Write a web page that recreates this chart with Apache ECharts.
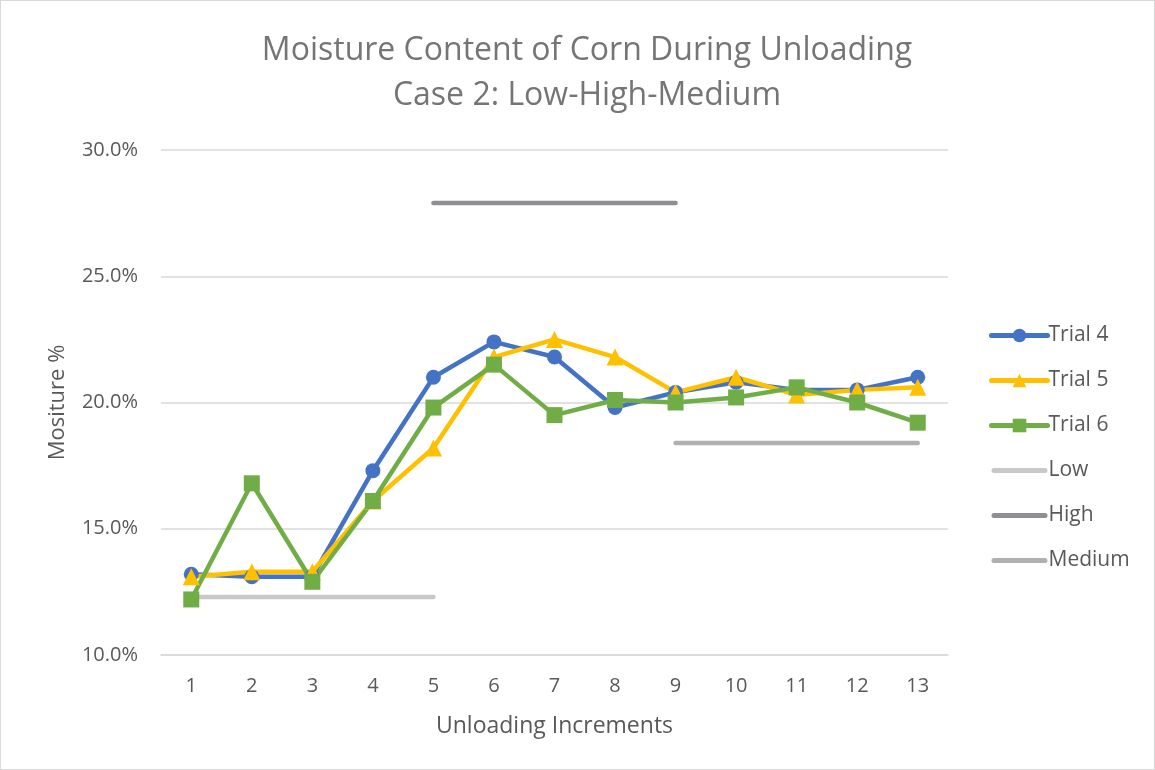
<!DOCTYPE html>
<html>
<head>
<meta charset="utf-8">
<script src="https://cdn.jsdelivr.net/npm/echarts@6/dist/echarts.min.js"></script>
<style>
  html, body { margin: 0; padding: 0; background: #fff; }
  #chart { width: 1153px; height: 768px; border: 1px solid #d9d9d9; }
</style>
</head>
<body>
<div id="chart"></div>
<script>
// data
var increments = ['1','2','3','4','5','6','7','8','9','10','11','12','13'];
var trial4 = [13.2, 13.1, 13.1, 17.3, 21.0, 22.4, 21.8, 19.8, 20.4, 20.8, 20.5, 20.5, 21.0];
var trial5 = [13.1, 13.3, 13.3, 16.1, 18.2, 21.8, 22.5, 21.8, 20.4, 21.0, 20.3, 20.5, 20.6];
var trial6 = [12.2, 16.8, 12.9, 16.1, 19.8, 21.5, 19.5, 20.1, 20.0, 20.2, 20.6, 20.0, 19.2];
// reference levels (null where the line is not drawn)
var low    = [12.3, 12.3, 12.3, 12.3, 12.3, null, null, null, null, null, null, null, null];
var high   = [null, null, null, null, 27.9, 27.9, 27.9, 27.9, 27.9, null, null, null, null];
var medium = [null, null, null, null, null, null, null, null, 18.4, 18.4, 18.4, 18.4, 18.4];

var font = '"Open Sans", "Noto Sans", sans-serif';
var barIcon = 'path://M2.5,0 L53.5,0 A2.5,2.5 0 0 1 53.5,5 L2.5,5 A2.5,2.5 0 0 1 2.5,0 Z';

function trial(name, data, color, symbol, size) {
	return {
		name: name,
		type: 'line',
		data: data,
		symbol: symbol,
		symbolSize: size,
		showAllSymbol: true,
		lineStyle: { width: 4.5, color: color, cap: 'round', join: 'round' },
		itemStyle: { color: color },
		emphasis: { disabled: true }
	};
}
function level(name, data, color) {
	return {
		name: name,
		type: 'line',
		data: data,
		symbol: 'none',
		lineStyle: { width: 4.5, color: color, cap: 'round' },
		itemStyle: { color: color },
		emphasis: { disabled: true }
	};
}

var myChart = echarts.init(document.getElementById('chart'));
var option = {
	animation: false,
	textStyle: { fontFamily: font },
	title: {
		text: 'Moisture Content of Corn During Unloading\nCase 2: Low-High-Medium',
		left: 581,
		top: 22,
		textAlign: 'center',
		textStyle: { fontSize: 32, fontWeight: 'normal', color: '#757575', lineHeight: 45, fontFamily: font }
	},
	legend: {
		orient: 'vertical',
		left: 983,
		top: 319,
		itemGap: 24,
		itemWidth: 56,
		itemHeight: 17,
		lineStyle: { width: 5, cap: 'round' },
		textStyle: { fontSize: 21, color: '#595959', fontFamily: font, padding: [0, 0, 0, -4] },
		data: [
			'Trial 4', 'Trial 5', 'Trial 6',
			{ name: 'Low', icon: barIcon },
			{ name: 'High', icon: barIcon },
			{ name: 'Medium', icon: barIcon }
		]
	},
	grid: { left: 160, right: 206, top: 149, bottom: 114 },
	xAxis: {
		type: 'category',
		data: increments,
		name: 'Unloading Increments',
		nameLocation: 'middle',
		nameGap: 60,
		nameTextStyle: { fontSize: 23, color: '#595959', fontFamily: font },
		axisLine: { lineStyle: { color: '#d9d9d9', width: 1.5 } },
		axisTick: { show: false },
		axisLabel: { fontSize: 20, color: '#595959', margin: 21, fontFamily: font }
	},
	yAxis: {
		type: 'value',
		min: 10,
		max: 30,
		interval: 5,
		name: 'Mositure %',
		nameLocation: 'middle',
		nameGap: 92,
		nameTextStyle: { fontSize: 22, color: '#595959', fontFamily: font },
		axisLine: { show: false },
		axisTick: { show: false },
		splitLine: { lineStyle: { color: '#d9d9d9', width: 1.5 } },
		axisLabel: {
			fontSize: 20, color: '#595959', margin: 23, fontFamily: font,
			formatter: function (v) { return v.toFixed(1) + '%'; }
		}
	},
	series: [
		level('Low', low, '#c8c8c8'),
		level('High', high, '#8f8f93'),
		level('Medium', medium, '#b0b0b0'),
		trial('Trial 4', trial4, '#4472c4', 'circle', 15),
		trial('Trial 5', trial5, '#ffc000', 'triangle', 17),
		trial('Trial 6', trial6, '#70ad47', 'rect', 16)
	]
};
myChart.setOption(option);
window.addEventListener('resize', function () {
	myChart.resize();
});
</script>
</body>
</html>
